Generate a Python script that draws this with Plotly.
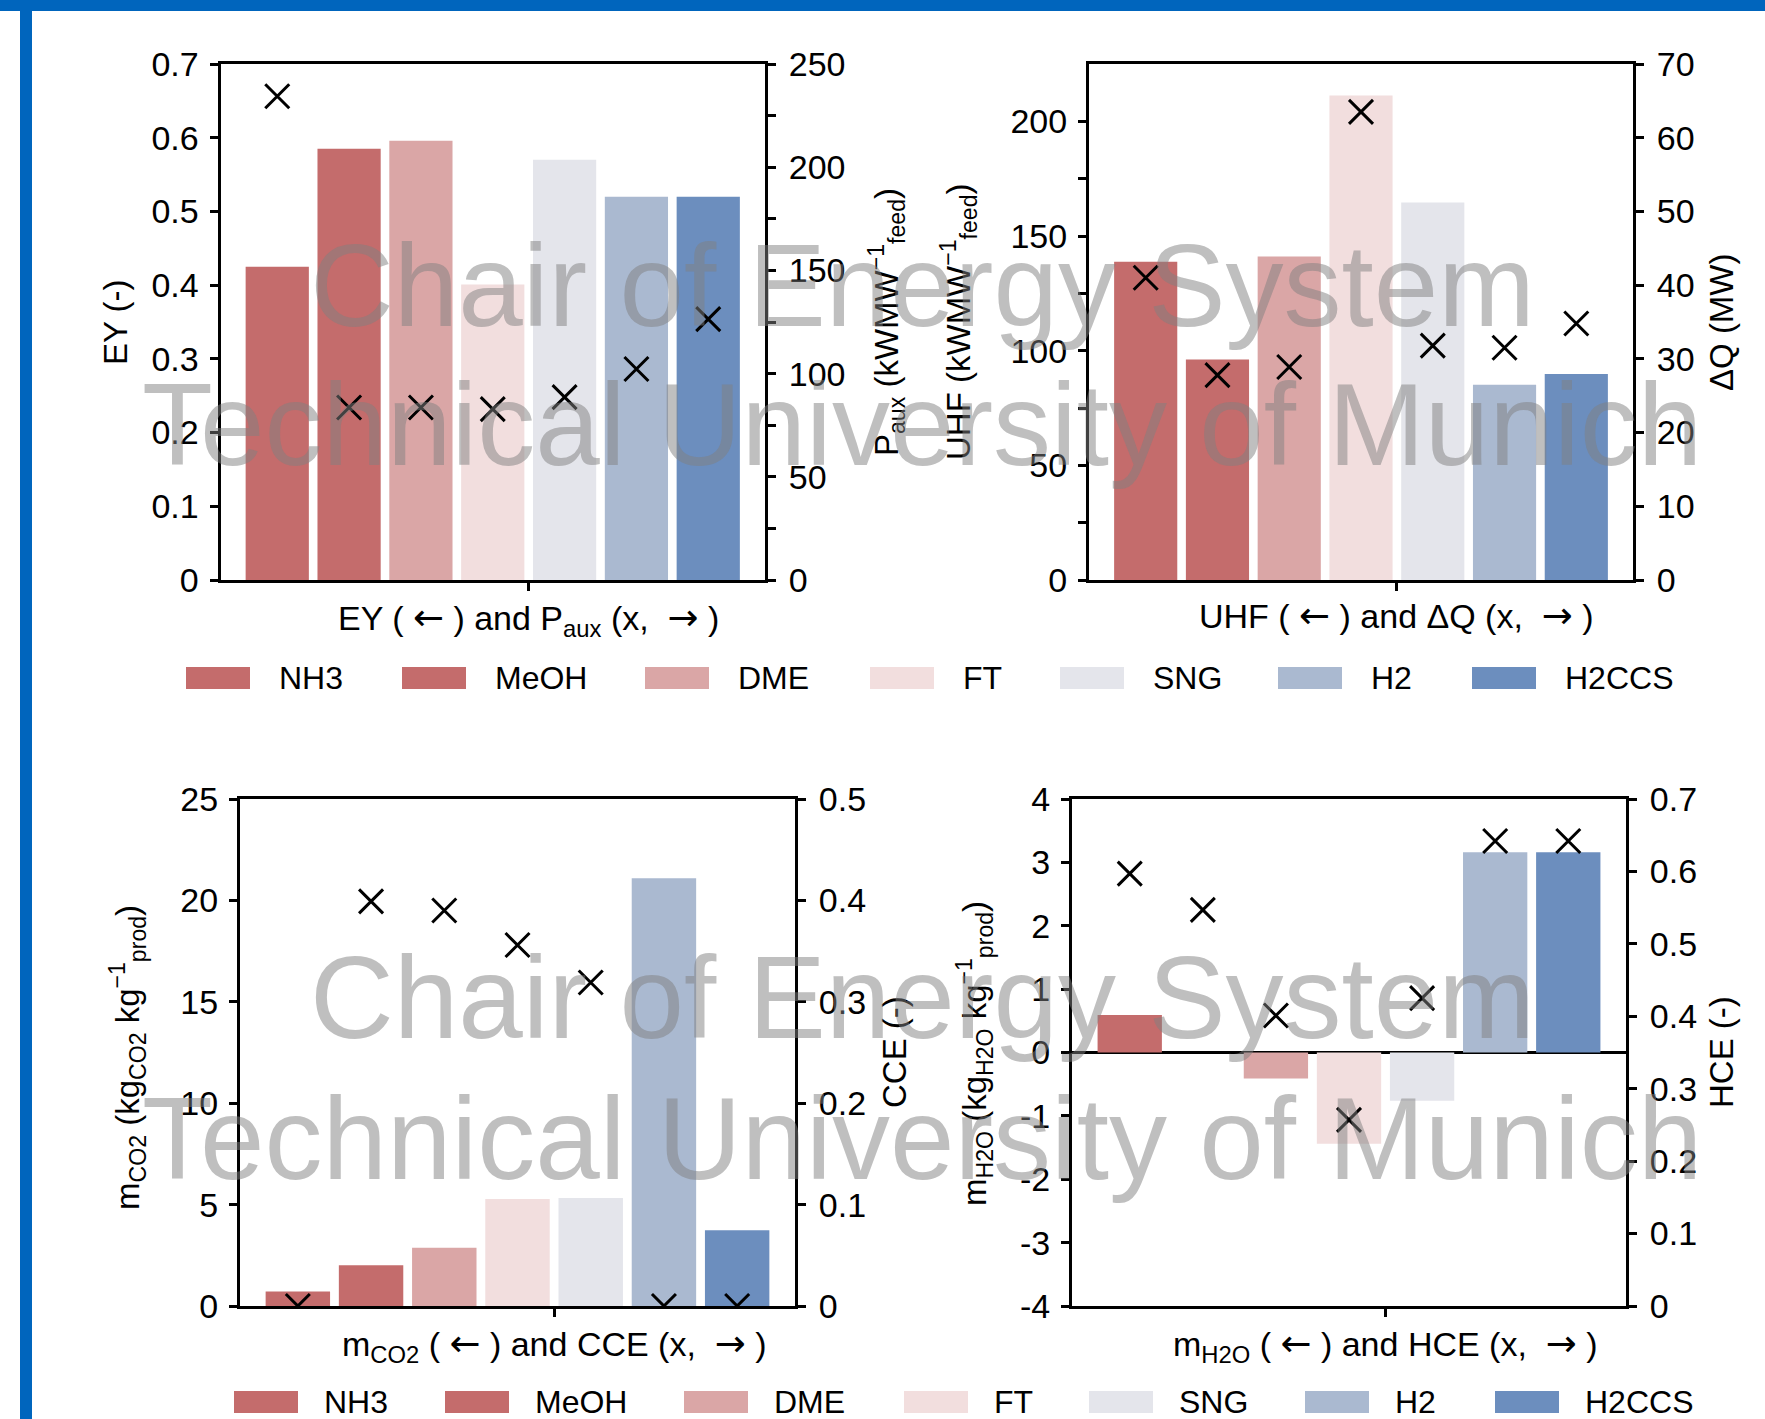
import plotly.graph_objects as go

W, H = 1765, 1419
FONT = "Liberation Sans, Arial, Helvetica, sans-serif"

# ---------------- data ----------------
categories = ["NH3", "MeOH", "DME", "FT", "SNG", "H2", "H2CCS"]
colors = ["#C46C6C", "#C46C6C", "#DAA6A6", "#F2DEDE", "#E4E5EB", "#AAB9D0", "#6C8EBE"]

ey = [0.425, 0.585, 0.596, 0.401, 0.570, 0.520, 0.520]
p_aux = [234.4, 83.6, 83.6, 82.8, 88.6, 102.2, 126.4]
uhf = [138.8, 96.2, 141.1, 211.3, 164.6, 85.1, 89.8]
delta_q = [41.0, 27.8, 28.9, 63.5, 31.8, 31.5, 34.8]
m_co2 = [0.72, 2.01, 2.87, 5.28, 5.33, 21.09, 3.73]
cce = [0.0, 0.399, 0.390, 0.356, 0.319, 0.0, 0.0]
m_h2o = [0.59, 0.0, -0.41, -1.44, -0.76, 3.16, 3.16]
hce = [0.597, 0.547, 0.401, 0.257, 0.425, 0.642, 0.642]

ey_ticks = [0, 0.1, 0.2, 0.3, 0.4, 0.5, 0.6, 0.7]
ey_labels = ["0", "0.1", "0.2", "0.3", "0.4", "0.5", "0.6", "0.7"]
paux_ticks = [0, 50, 100, 150, 200, 250]
paux_labels = ["0", "50", "100", "150", "200", "250"]
paux_minor = [25, 75, 125, 175, 225]
uhf_ticks = [0, 50, 100, 150, 200]
uhf_labels = ["0", "50", "100", "150", "200"]
uhf_minor = [25, 75, 125, 175]
dq_ticks = [0, 10, 20, 30, 40, 50, 60, 70]
dq_labels = ["0", "10", "20", "30", "40", "50", "60", "70"]
mco2_ticks = [0, 5, 10, 15, 20, 25]
mco2_labels = ["0", "5", "10", "15", "20", "25"]
cce_ticks = [0, 0.1, 0.2, 0.3, 0.4, 0.5]
cce_labels = ["0", "0.1", "0.2", "0.3", "0.4", "0.5"]
mh2o_ticks = [-4, -3, -2, -1, 0, 1, 2, 3, 4]
mh2o_labels = ["-4", "-3", "-2", "-1", "0", "1", "2", "3", "4"]
hce_ticks = [0, 0.1, 0.2, 0.3, 0.4, 0.5, 0.6, 0.7]
hce_labels = ["0", "0.1", "0.2", "0.3", "0.4", "0.5", "0.6", "0.7"]

watermark = ["Chair of Energy System", "Technical University of Munich"]

# ---------------- layout helpers ----------------
def fx(p):
    return p / W


def fy(p):
    return 1 - p / H


def ref(prefix, n):
    return prefix if n == 1 else f"{prefix}{n}"


def key(prefix, n):
    return f"{prefix}axis" if n == 1 else f"{prefix}axis{n}"


ARROW = '<span style="font-family:DejaVu Sans;font-size:37px">{}</span>'
LA = ARROW.format("\u2190")
RA = ARROW.format("\u2192")

panels = [
    dict(bars=ey, marks=p_aux,
         left=(ey_ticks, ey_labels, [0, 0.7], []), right=(paux_ticks, paux_labels, [0, 250], paux_minor),
         xd=(220.5, 765), yd=(64, 580), zero=False,
         xtitle=f"EY ( {LA} ) and P<sub>aux</sub> (x,\u00a0 {RA} )", xty=619.5,
         ltitle=("EY (-)", 116, 322),
         rtitle=("P<sub>aux</sub> (kWMW<sup>\u22121</sup><sub>feed</sub>)", 887, 322)),
    dict(bars=uhf, marks=delta_q,
         left=(uhf_ticks, uhf_labels, [0, 225], uhf_minor), right=(dq_ticks, dq_labels, [0, 70], []),
         xd=(1089, 1633), yd=(64, 580), zero=False,
         xtitle=f"UHF ( {LA} ) and \u0394Q (x,\u00a0 {RA} )", xty=615.6,
         ltitle=("UHF (kWMW<sup>\u22121</sup><sub>feed</sub>)", 959, 322),
         rtitle=("\u0394Q (MW)", 1722, 322)),
    dict(bars=m_co2, marks=cce,
         left=(mco2_ticks, mco2_labels, [0, 25], []), right=(cce_ticks, cce_labels, [0, 0.5], []),
         xd=(240, 795), yd=(799, 1306), zero=False,
         xtitle=f"m<sub>CO2</sub> ( {LA} ) and CCE (x,\u00a0 {RA} )", xty=1345,
         ltitle=("m<sub>CO2</sub> (kg<sub>CO2</sub> kg<sup>\u22121</sup><sub>prod</sub>)", 127, 1058),
         rtitle=("CCE (-)", 894, 1052)),
    dict(bars=m_h2o, marks=hce,
         left=(mh2o_ticks, mh2o_labels, [-4, 4], []), right=(hce_ticks, hce_labels, [0, 0.7], []),
         xd=(1072, 1626), yd=(799, 1306), zero=True,
         xtitle=f"m<sub>H2O</sub> ( {LA} ) and HCE (x,\u00a0 {RA} )", xty=1345,
         ltitle=("m<sub>H2O</sub> (kg<sub>H2O</sub> kg<sup>\u22121</sup><sub>prod</sub>)", 974, 1054),
         rtitle=("HCE (-)", 1721, 1052)),
]

XRANGE = [-0.79, 6.79]
XTICK = 3.5
positions = list(range(len(categories)))

fig = go.Figure()
layout_axes = {}
annotations = []
shapes = []

TL, TW = 8, 3
tick_common = dict(ticklen=TL, tickwidth=TW, tickcolor="black")


def minor_spec(vals, direction):
    if not vals:
        return dict(ticks="")
    return dict(tickmode="array", tickvals=vals, ticks=direction,
                ticklen=TL, tickwidth=TW, tickcolor="black", showgrid=False)


for i, p in enumerate(panels):
    xm, yl, yr = i + 1, i + 1, i + 5
    xs, yls, yrs = i + 5, i + 9, i + 13
    xdom = [fx(p["xd"][0]), fx(p["xd"][1])]
    ydom = [fy(p["yd"][1]), fy(p["yd"][0])]

    fig.add_trace(go.Bar(
        x=positions, y=p["bars"], width=0.88,
        marker=dict(color=colors, line=dict(width=0)),
        hovertext=categories, showlegend=False,
        xaxis=ref("x", xm), yaxis=ref("y", yl)))
    fig.add_trace(go.Scatter(
        x=positions, y=p["marks"], mode="markers",
        marker=dict(symbol="x-thin", size=24, color="black",
                    line=dict(width=3, color="black")),
        hovertext=categories, showlegend=False,
        xaxis=ref("x", xm), yaxis=ref("y", yr)))

    layout_axes[key("x", xm)] = dict(
        domain=xdom, range=XRANGE, anchor=ref("y", yl),
        showline=True, linecolor="black", linewidth=3, mirror=True,
        tickmode="array", tickvals=[XTICK], ticks="outside", showticklabels=False,
        showgrid=False, zeroline=False, **tick_common)
    layout_axes[key("x", xs)] = dict(
        range=XRANGE, overlaying=ref("x", xm), anchor=ref("y", yl), side="bottom",
        showline=False, tickmode="array", tickvals=[XTICK], ticks="inside",
        showticklabels=False, showgrid=False, zeroline=False, **tick_common)

    lt, ll, lr, lm = p["left"]
    rt, rl, rr, rm = p["right"]
    layout_axes[key("y", yl)] = dict(
        domain=ydom, range=lr, anchor=ref("x", xm), side="left",
        showline=True, linecolor="black", linewidth=3,
        tickmode="array", tickvals=lt, ticktext=ll, ticks="outside",
        minor=minor_spec(lm, "outside"),
        tickfont=dict(size=34, color="black", family=FONT), ticklabelstandoff=4,
        showgrid=False, zeroline=p["zero"], zerolinecolor="black", zerolinewidth=2.5,
        **tick_common)
    layout_axes[key("y", yr)] = dict(
        range=rr, overlaying=ref("y", yl), anchor=ref("x", xm), side="right",
        showline=True, linecolor="black", linewidth=3,
        tickmode="array", tickvals=rt, ticktext=rl, ticks="outside",
        minor=minor_spec(rm, "outside"),
        tickfont=dict(size=34, color="black", family=FONT), ticklabelstandoff=6,
        showgrid=False, zeroline=False, **tick_common)
    layout_axes[key("y", yls)] = dict(
        range=lr, overlaying=ref("y", yl), anchor=ref("x", xm), side="left",
        showline=False, tickmode="array", tickvals=lt, ticks="inside",
        minor=minor_spec(lm, "inside"),
        showticklabels=False, showgrid=False, zeroline=False, **tick_common)
    layout_axes[key("y", yrs)] = dict(
        range=rr, overlaying=ref("y", yl), anchor=ref("x", xm), side="right",
        showline=False, tickmode="array", tickvals=rt, ticks="inside",
        minor=minor_spec(rm, "inside"),
        showticklabels=False, showgrid=False, zeroline=False, **tick_common)

    # axis titles
    annotations.append(dict(
        text=p["xtitle"], x=XTICK, xref=ref("x", xm), y=fy(p["xty"]), yref="paper",
        xanchor="center", yanchor="middle", showarrow=False,
        font=dict(size=34, color="black", family=FONT)))
    for t, cx, cy in (p["ltitle"], p["rtitle"]):
        annotations.append(dict(
            text=t, x=fx(cx), y=fy(cy), xref="paper", yref="paper", textangle=-90,
            xanchor="center", yanchor="middle", showarrow=False,
            font=dict(size=33, color="black", family=FONT)))

# ---------------- legends (two rows) ----------------
legend_rows = [
    dict(cy=678, swatch_x=[186, 402, 645, 870, 1060, 1278, 1472], gap=27),
    dict(cy=1402, swatch_x=[234, 445, 684, 904, 1089, 1305, 1495], gap=24),
]
SW_W, SW_H = 64, 22
for row in legend_rows:
    for name, col, sx in zip(categories, colors, row["swatch_x"]):
        shapes.append(dict(
            type="rect", xref="paper", yref="paper",
            x0=fx(sx), x1=fx(sx + SW_W), y0=fy(row["cy"] + SW_H / 2), y1=fy(row["cy"] - SW_H / 2),
            fillcolor=col, line=dict(width=0), layer="above"))
        annotations.append(dict(
            text=name, x=fx(sx + SW_W + row["gap"]), y=fy(row["cy"]),
            xref="paper", yref="paper", xanchor="left", yanchor="middle",
            showarrow=False, font=dict(size=32, color="black", family=FONT)))

# ---------------- watermark ----------------
for cy1, cy2 in ((286, 425), (998, 1139)):
    for txt, cy in zip(watermark, (cy1, cy2)):
        annotations.append(dict(
            text=txt, x=fx(922), y=fy(cy), xref="paper", yref="paper",
            xanchor="center", yanchor="middle", showarrow=False,
            font=dict(size=116, color="rgba(128,128,128,0.5)", family=FONT)))

# ---------------- frame ----------------
FRAME = "#0065BD"
shapes.append(dict(type="rect", xref="paper", yref="paper", x0=0, x1=1,
                   y0=fy(11), y1=1, fillcolor=FRAME, line=dict(width=0), layer="below"))
shapes.append(dict(type="rect", xref="paper", yref="paper", x0=fx(20), x1=fx(32),
                   y0=0, y1=1, fillcolor=FRAME, line=dict(width=0), layer="below"))

fig.update_layout(
    width=W, height=H, margin=dict(l=0, r=0, t=0, b=0, autoexpand=False),
    paper_bgcolor="white", plot_bgcolor="rgba(0,0,0,0)",
    font=dict(family=FONT, color="black", size=33),
    showlegend=False, barmode="overlay",
    annotations=annotations, shapes=shapes,
    **layout_axes,
)

fig.write_html("out.html", config={"displayModeBar": False},
               post_script="document.body.style.margin='0';")
